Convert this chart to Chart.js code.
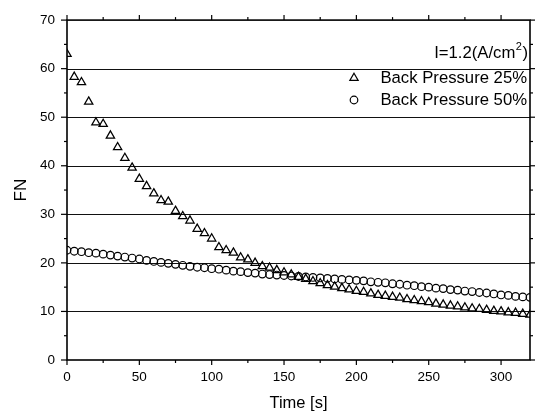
<!DOCTYPE html>
<html><head><meta charset="utf-8">
<script src="https://cdn.jsdelivr.net/npm/chart.js@4.4.1/dist/chart.umd.min.js"></script>
<style>html,body{margin:0;padding:0;background:#fff}#wrap{width:552px;height:414px}</style>
</head><body><div id="wrap"><canvas id="c" width="552" height="414"></canvas></div>
<script>
// ---- data ----
const timesS = [0,5,10,15,20,25,30,35,40,45,50,55,60,65,70,75,80,85,90,95,100,105,110,115,120,125,130,135,140,145,150,155,160,165,170,175,180,185,190,195,200,205,210,215,220,225,230,235,240,245,250,255,260,265,270,275,280,285,290,295,300,305,310,315,320];
const fnBP25 = [63.0,58.3,57.2,53.2,48.9,48.6,46.2,43.8,41.6,39.6,37.3,35.8,34.3,32.9,32.6,30.7,29.6,28.7,27.0,26.1,25.0,23.2,22.6,22.1,21.1,20.7,20.0,19.3,19.0,18.5,18.0,17.6,17.1,16.7,16.2,15.8,15.4,15.1,14.8,14.5,14.2,14.0,13.7,13.4,13.2,13.0,12.8,12.5,12.3,12.1,11.9,11.6,11.4,11.2,11.0,10.8,10.6,10.5,10.3,10.1,10.0,9.8,9.7,9.5,9.3];
const fnBP50 = [22.6,22.4,22.3,22.1,22.0,21.8,21.6,21.4,21.2,21.0,20.8,20.5,20.3,20.1,19.9,19.7,19.5,19.3,19.1,19.0,18.8,18.7,18.5,18.3,18.2,18.0,17.9,17.7,17.6,17.5,17.4,17.3,17.2,17.1,17.0,16.9,16.8,16.7,16.6,16.5,16.4,16.3,16.1,16.0,15.9,15.7,15.6,15.4,15.3,15.1,15.0,14.8,14.7,14.5,14.4,14.2,14.1,13.9,13.8,13.6,13.4,13.3,13.1,13.0,12.9];
const seriesLabels = ['Back Pressure 25%', 'Back Pressure 50%'];
const conditionText = ['I=1.2(A/cm', '2', ')'];
const xMajorTicks = [0,50,100,150,200,250,300];
const xMinorTicks = [25,75,125,175,225,275];
const yMajorTicks = [0,10,20,30,40,50,60,70];
const yMinorTicks = [5,15,25,35,45,55,65];
const yGridLines = [10,20,30,40,50,60];
const xTitle = 'Time [s]';
const yTitle = 'FN';

const FONT = "'Liberation Sans', Arial, sans-serif";

function toPts(xs, ys){ return xs.map((x,i)=>({x:x, y:ys[i]})); }

function drawMarker(ctx, style, x, y, r){
  ctx.beginPath();
  if (style === 'triangle'){
    let a = 0;
    ctx.moveTo(x + Math.sin(a)*r, y - Math.cos(a)*r);
    a += 2*Math.PI/3;
    ctx.lineTo(x + Math.sin(a)*r, y - Math.cos(a)*r);
    a += 2*Math.PI/3;
    ctx.lineTo(x + Math.sin(a)*r, y - Math.cos(a)*r);
    ctx.closePath();
  } else {
    ctx.arc(x, y, r, 0, Math.PI*2);
  }
  ctx.stroke();
}

const framePlugin = {
  id: 'frame',
  beforeDatasetsDraw(chart){
    const {ctx, chartArea:a, scales:{x, y}} = chart;
    ctx.save();
    ctx.strokeStyle = '#111';
    ctx.lineWidth = 1.1;
    yGridLines.forEach(v=>{
      const py = Math.round(y.getPixelForValue(v)) + 0.5;
      ctx.beginPath(); ctx.moveTo(a.left, py); ctx.lineTo(a.right, py); ctx.stroke();
    });
    ctx.restore();
  },
  afterDraw(chart){
    const {ctx, chartArea:a, scales:{x, y}} = chart;
    ctx.save();
    ctx.strokeStyle = '#000';
    ctx.lineWidth = 1.6;
    ctx.strokeRect(a.left, a.top, a.right - a.left, a.bottom - a.top);
    ctx.lineWidth = 1.2;
    const tick = (x1,y1,x2,y2)=>{ctx.beginPath();ctx.moveTo(x1,y1);ctx.lineTo(x2,y2);ctx.stroke();};
    xMajorTicks.forEach(v=>{const px=x.getPixelForValue(v); tick(px,a.bottom,px,a.bottom+5); tick(px,a.top,px,a.top-5);});
    xMinorTicks.forEach(v=>{const px=x.getPixelForValue(v); tick(px,a.bottom,px,a.bottom+3); tick(px,a.top,px,a.top-3);});
    yMajorTicks.forEach(v=>{const py=y.getPixelForValue(v); tick(a.left,py,a.left-6,py); tick(a.right,py,a.right+5,py);});
    yMinorTicks.forEach(v=>{const py=y.getPixelForValue(v); tick(a.left,py,a.left-3,py); tick(a.right,py,a.right+3,py);});

    // legend / annotation
    ctx.fillStyle = '#000';
    ctx.textBaseline = 'middle';
    const rightX = a.right - 3;
    const big = '16.7px ' + FONT, small = '11px ' + FONT;
    ctx.font = big;
    const w1 = ctx.measureText(conditionText[0]).width;
    const w3 = ctx.measureText(conditionText[2]).width;
    ctx.font = small;
    const w2 = ctx.measureText(conditionText[1]).width;
    const cy = 53;
    let sx = rightX - (w1 + w2 + w3);
    ctx.font = big; ctx.textAlign = 'left';
    ctx.fillText(conditionText[0], sx, cy);
    ctx.font = small; ctx.fillText(conditionText[1], sx + w1 + 0.5, cy - 6);
    ctx.font = big; ctx.fillText(conditionText[2], sx + w1 + w2 + 1, cy);

    const rows = [78, 100];
    chart.data.datasets.forEach((ds, i)=>{
      ctx.lineWidth = 1.2;
      ctx.strokeStyle = '#000';
      drawMarker(ctx, ds.pointStyle, 354, rows[i], ds.pointStyle === 'triangle' ? 4.8 : 3.8);
      ctx.font = big; ctx.textAlign = 'right';
      ctx.fillText(ds.label, rightX, rows[i]);
    });
    ctx.restore();
  }
};

new Chart(document.getElementById('c'), {
  type: 'scatter',
  data: {
    datasets: [
      { label: seriesLabels[0], data: toPts(timesS, fnBP25), pointStyle: 'triangle', pointRadius: 4.8,
        borderColor: '#000', backgroundColor: 'rgba(255,255,255,0)', pointBorderWidth: 1.25, showLine: false },
      { label: seriesLabels[1], data: toPts(timesS, fnBP50), pointStyle: 'circle', pointRadius: 3.8,
        borderColor: '#000', backgroundColor: 'rgba(255,255,255,0)', pointBorderWidth: 1.2, showLine: false }
    ]
  },
  options: {
    responsive: false, animation: false, devicePixelRatio: 1,
    layout: { padding: { left: 0, right: 22, top: 17, bottom: 0 } },
    plugins: { legend: { display: false }, tooltip: { enabled: false } },
    scales: {
      x: {
        type: 'linear', min: 0, max: 320,
        afterFit(s){ s.height = 54; },
        grid: { display: false, drawTicks: false, tickLength: 0 },
        border: { display: false },
        ticks: { stepSize: 50, includeBounds: false, color: '#000', padding: 9, maxRotation: 0,
                 font: { family: FONT, size: 13.5 } },
        title: { display: true, text: xTitle, color: '#000', font: { family: FONT, size: 16.5 }, padding: { top: 0, bottom: 1 } }
      },
      y: {
        type: 'linear', min: 0, max: 70,
        afterFit(s){ s.width = 67; },
        grid: { display: false, drawTicks: false, tickLength: 0 },
        border: { display: false },
        ticks: { stepSize: 10, color: '#000', padding: 12, font: { family: FONT, size: 13.5 } },
        title: { display: true, text: yTitle, color: '#000', font: { family: FONT, size: 17 }, padding: { top: 11, bottom: 0 } }
      }
    }
  },
  plugins: [framePlugin]
});
</script>
</body></html>
